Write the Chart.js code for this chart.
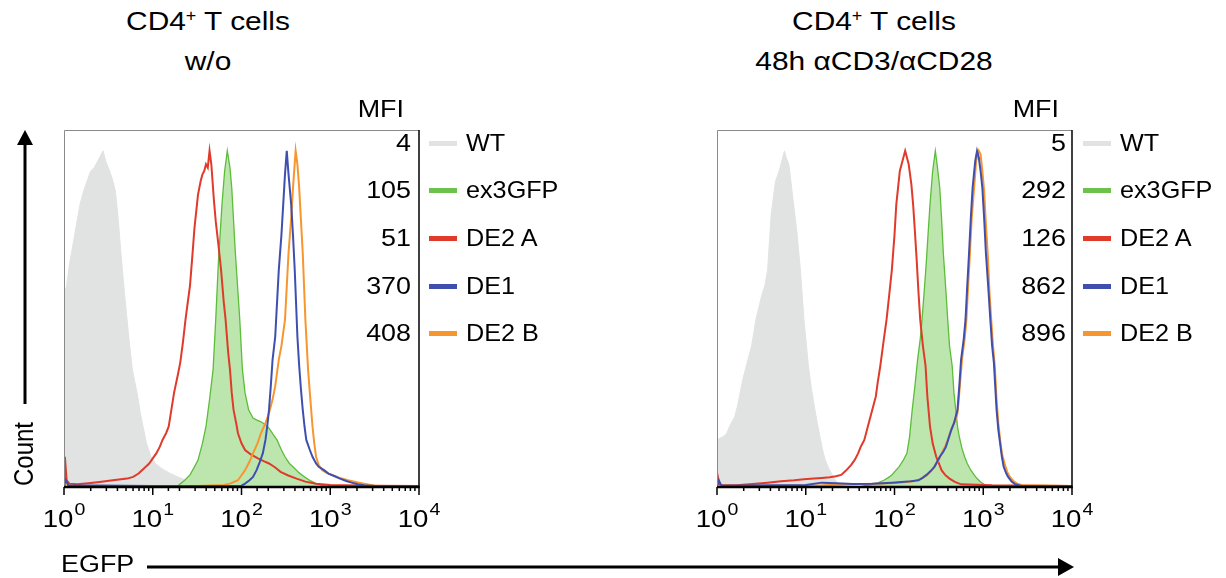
<!DOCTYPE html>
<html lang="en">
<head>
<meta charset="UTF-8" />
<title>EGFP in CD4+ T cells</title>
<script src="https://cdn.jsdelivr.net/npm/chart.js"></script>
<style>
  body { margin: 0; background: #fff; }
  #page { position: relative; width: 1226px; height: 578px; overflow: hidden;
          font-family: "Liberation Sans", Arial, sans-serif; color: #000; }
  .txt { position: absolute; white-space: nowrap; line-height: 1; }
  .title { position: absolute; width: 400px; text-align: center; font-size: 26px;
           line-height: 36px; transform: scaleX(1.15); }
  sup { font-size: 60%; vertical-align: 0; position: relative; top: -0.6em; }
  .num { text-align: right; width: 80px; transform: scaleX(1.12); transform-origin: right center; font-size: 24px; }
  .lab { transform: scaleX(1.05); transform-origin: left center; font-size: 24px; }
  .mark { position: absolute; width: 28px; height: 5px; }
  canvas { position: absolute; }
</style>
</head>
<body>
<div id="page">
  <div class="title" style="left:8px; top:3px;">CD4<sup>+</sup> T cells<br>w/o</div>
  <div class="title" style="left:674px; top:3px;">CD4<sup>+</sup> T cells<br>48h &alpha;CD3/&alpha;CD28</div>

  <canvas id="left" width="420" height="420" style="left:30px; top:120px; width:420px; height:420px;"></canvas>
  <canvas id="right" width="420" height="420" style="left:683px; top:120px; width:420px; height:420px;"></canvas>

  <svg width="1226" height="578" style="position:absolute; left:0; top:0; pointer-events:none;">
    <line x1="25" y1="142" x2="25" y2="404" stroke="#000" stroke-width="3" />
    <polygon points="17,145 33,145 25,130" fill="#000" />
    <line x1="147" y1="567" x2="1060" y2="567" stroke="#000" stroke-width="3" />
    <polygon points="1058,558 1058,576 1074,567" fill="#000" />
  </svg>
  <div class="txt" style="left:61px; top:553px; font-size:23px; transform:scaleX(1.17); transform-origin:left center;">EGFP</div>
  <div class="txt" style="left:-26px; top:442px; width:100px; text-align:center; font-size:24px; transform:rotate(-90deg) scaleY(1.15);">Count</div>
  <div id="legends"></div>
</div>

<script>
  // [log10 fluorescence, % of mode]
  const leftWT = [[0,57],[0.03,60],[0.06,66],[0.1,72],[0.14,78],[0.18,84],[0.22,88],[0.26,91],[0.3,94],[0.34,95],
    [0.38,97],[0.42,99],[0.44,100],[0.47,97],[0.5,95],[0.54,92],[0.58,88],[0.61,80],[0.64,70],[0.68,58],[0.71,50],
    [0.74,42],[0.77,35],[0.8,31],[0.83,27],[0.86,22],[0.89,18],[0.93,13],[0.98,9],[1.03,7],[1.1,5.5],[1.2,4],
    [1.3,2.8],[1.38,2],[1.5,1],[1.6,0.5],[1.7,0.2],[1.8,0]];
  const leftGFP = [[1.2,0],[1.29,0.5],[1.36,2],[1.42,3.6],[1.47,6],[1.51,8],[1.56,13],[1.6,18],[1.64,26],[1.68,35],
    [1.71,50],[1.74,67],[1.78,84],[1.81,94],[1.84,100],[1.87,95],[1.89,89],[1.93,70],[1.98,50],[2.01,35],[2.04,28],
    [2.08,23],[2.13,20.5],[2.18,19.8],[2.22,19.4],[2.27,18.5],[2.31,17.5],[2.36,15.5],[2.4,14],[2.45,11],[2.49,9],
    [2.54,7],[2.58,6],[2.65,4.2],[2.71,3],[2.78,1.8],[2.84,1],[2.92,0.4],[3.0,0]];
  const leftDE2A = [[0,0.5],[0.01,9],[0.03,2],[0.06,1],[0.15,0.8],[0.3,1.2],[0.4,1.5],[0.55,2],[0.71,2.5],[0.78,3],
    [0.84,4],[0.9,5.5],[0.96,7],[1.0,8.5],[1.04,10],[1.08,12],[1.11,14],[1.15,16],[1.18,18],[1.21,23],[1.24,28],
    [1.28,33],[1.31,37],[1.34,43],[1.37,50],[1.4,56],[1.42,60],[1.45,70],[1.47,77],[1.51,87],[1.54,91],[1.56,93],
    [1.58,94],[1.6,96],[1.62,95],[1.64,100],[1.66,96],[1.69,85],[1.71,79],[1.74,72],[1.77,64.5],[1.8,55],[1.82,50],
    [1.85,40],[1.87,35],[1.89,28],[1.91,23],[1.94,19],[1.96,16],[2.0,13],[2.04,11],[2.1,9.8],[2.18,8.6],[2.25,7.7],
    [2.31,7],[2.38,5.8],[2.44,4.5],[2.52,3.5],[2.62,2.5],[2.72,1.6],[2.84,1],[3.0,0.6],[3.5,0.4],[4,0.3]];
  const leftDE1 = [[0,0.5],[0.02,2],[0.05,0.5],[1.0,0.3],[2.0,0.4],[2.04,1],[2.09,2],[2.13,3],[2.17,5],[2.2,7],
    [2.24,10],[2.27,14],[2.29,18],[2.31,23],[2.33,30],[2.35,37.8],[2.38,44.7],[2.42,64.5],[2.45,75],[2.47,84],
    [2.49,93],[2.51,100],[2.53,93],[2.56,84],[2.58,75],[2.6,64.5],[2.63,44.7],[2.65,36],[2.67,29],[2.69,23],
    [2.71,18],[2.73,14],[2.77,11],[2.8,9],[2.84,7],[2.87,6],[2.93,5],[2.98,4],[3.05,3.2],[3.11,2.5],[3.18,1.8],
    [3.24,1.3],[3.31,0.8],[3.38,0.5],[3.5,0.3],[4,0.3]];
  const leftDE2B = [[0,0.3],[0.02,1.5],[0.05,0.3],[1.5,0.3],[1.8,0.6],[1.87,1],[1.96,2],[2.0,3.5],[2.04,5],[2.09,7.5],
    [2.13,10],[2.18,13],[2.22,16],[2.27,19],[2.31,22],[2.35,26],[2.38,30],[2.42,37.8],[2.45,42],[2.49,49.7],
    [2.53,69.6],[2.56,80],[2.58,89],[2.61,100],[2.63,96],[2.65,89],[2.69,69.6],[2.72,49.7],[2.75,35],[2.77,28],
    [2.8,18],[2.82,13],[2.84,9],[2.87,6.5],[2.91,5],[2.96,4.2],[3.02,3.6],[3.1,2.8],[3.2,2],[3.3,1.4],[3.38,1],
    [3.5,0.4],[4,0.3]];

  const rightWT = [[0,14],[0.03,14.5],[0.07,15],[0.11,16],[0.15,18.5],[0.2,21],[0.23,24],[0.26,28],[0.3,33],[0.33,36],
    [0.36,39],[0.39,42],[0.44,50],[0.5,56.6],[0.54,60],[0.57,64.5],[0.61,81],[0.66,91],[0.7,94],[0.73,97],[0.76,100],
    [0.78,98],[0.81,96],[0.85,87],[0.9,76],[0.94,64.5],[0.98,49.7],[1.03,36],[1.06,30],[1.09,25],[1.13,19],[1.16,15],
    [1.19,11],[1.22,8],[1.26,5.5],[1.29,4],[1.33,2.2],[1.36,1.2],[1.4,0.5],[1.45,0]];
  const rightGFP = [[1.6,0],[1.75,0.8],[1.82,1.3],[1.88,2],[1.93,2.8],[1.97,3.6],[2.01,4.8],[2.05,6],[2.1,8],[2.14,10],
    [2.17,15],[2.2,23],[2.23,30],[2.26,37.8],[2.29,44],[2.31,49.7],[2.34,60],[2.36,67.5],[2.38,76],[2.4,84],[2.43,94],
    [2.46,100],[2.48,96],[2.51,89],[2.53,80],[2.55,69.6],[2.58,58],[2.6,49.7],[2.62,42],[2.65,36],[2.67,28],[2.69,23],
    [2.71,18],[2.73,15],[2.76,11.5],[2.79,9],[2.82,7],[2.86,5],[2.9,3.5],[2.93,2.5],[2.97,1.5],[3.01,0.8],[3.06,0.3],
    [3.1,0]];
  const rightDE2A = [[0,0.5],[0.01,3],[0.03,0.5],[0.22,0.5],[0.4,0.9],[0.57,1.3],[0.72,1.7],[0.87,2],[0.98,2.3],
    [1.09,2.5],[1.18,2.7],[1.27,2.9],[1.34,3.2],[1.4,3.6],[1.45,4.8],[1.51,6.5],[1.55,8],[1.59,10],[1.62,12],[1.66,14],
    [1.69,17],[1.72,20],[1.75,23],[1.79,27],[1.81,31],[1.84,36],[1.88,44],[1.91,49.7],[1.94,57],[1.97,64.5],[2.0,75],
    [2.02,84],[2.04,89],[2.06,94],[2.09,97],[2.12,100],[2.14,98],[2.16,96],[2.19,90],[2.21,84],[2.23,76],[2.25,67.5],
    [2.27,58],[2.29,49.7],[2.32,42],[2.35,36],[2.37,27],[2.4,18],[2.43,13],[2.47,9],[2.5,7],[2.53,5],[2.57,3.6],
    [2.62,2.5],[2.68,1.5],[2.75,0.8],[3.1,0.5],[4,0.3]];
  const rightDE1 = [[0,0.5],[0.02,2],[0.05,0.4],[0.6,0.5],[1.0,0.6],[1.18,1.3],[1.35,1.1],[1.53,0.9],[1.75,1],[1.97,1.3],
    [2.15,1.6],[2.27,2],[2.32,2.8],[2.36,3.6],[2.41,4.8],[2.45,6],[2.48,7.5],[2.51,9],[2.55,10.5],[2.58,12],[2.61,14.5],
    [2.64,17],[2.67,19],[2.69,21],[2.71,23],[2.73,30],[2.75,37.8],[2.78,44],[2.8,49.7],[2.82,60],[2.84,69.6],[2.86,80],
    [2.88,89],[2.91,97],[2.93,100],[2.95,98],[2.97,94],[2.99,89],[3.01,80],[3.03,69.6],[3.06,58],[3.08,49.7],[3.1,42],
    [3.12,37],[3.15,23],[3.17,17],[3.19,13],[3.21,9],[3.23,6],[3.26,4],[3.28,3],[3.32,1.6],[3.36,0.8],[3.42,0.4],[4,0.3]];
  const rightDE2B = [[0,0.3],[0.5,0.3],[1.2,0.5],[1.5,0.8],[1.8,1],[2.0,1.2],[2.2,1.6],[2.3,2.4],[2.37,3.6],[2.42,5],
    [2.46,6.5],[2.5,8],[2.53,10],[2.57,12],[2.6,14],[2.63,16.5],[2.66,18.5],[2.69,20],[2.71,22],[2.73,28],[2.76,37.8],
    [2.79,44],[2.81,49.7],[2.83,60],[2.85,69.6],[2.87,80],[2.9,90],[2.92,97],[2.95,100],[2.97,99],[2.99,94],[3.01,88],
    [3.03,78],[3.05,69.6],[3.07,58],[3.09,49.7],[3.11,42],[3.13,36],[3.15,26],[3.17,19],[3.19,14],[3.21,10],[3.24,7],
    [3.27,4.5],[3.3,3],[3.34,1.8],[3.38,1],[3.44,0.5],[4,0.3]];

  const seriesNames = ['WT', 'ex3GFP', 'DE2 A', 'DE1', 'DE2 B'];
  const seriesColors = ['#e1e2e2', '#6cc24a', '#e03a2a', '#3f4fb0', '#f7962e'];
  const mfiLeft = [4, 105, 51, 370, 408];
  const mfiRight = [5, 292, 126, 862, 896];
  const tickBase = '10';
  const tickExponents = ['0', '1', '2', '3', '4'];

  const FONT = '"Liberation Sans", Arial, sans-serif';
  const SX = 1.15;

  function drawPow(ctx, px, baseY, exp) {
    ctx.font = '24px ' + FONT;
    const w1 = ctx.measureText(tickBase).width;
    ctx.font = '17px ' + FONT;
    const w2 = ctx.measureText(exp).width;
    const total = (w1 + w2 + 1) * SX;
    ctx.save();
    ctx.translate(px - total / 2, baseY);
    ctx.scale(SX, 1);
    ctx.fillStyle = '#000';
    ctx.textBaseline = 'alphabetic';
    ctx.font = '24px ' + FONT;
    ctx.fillText(tickBase, 0, 0);
    ctx.font = '17px ' + FONT;
    ctx.fillText(exp, w1 + 1, -12);
    ctx.restore();
  }

  const framePlugin = {
    id: 'frame',
    afterDatasetsDraw(chart) {
      const { ctx, chartArea: a, scales: { x } } = chart;
      ctx.save();
      ctx.strokeStyle = '#8a8a8a';
      ctx.lineWidth = 1;
      ctx.beginPath();
      ctx.moveTo(a.left + 0.5, a.bottom);
      ctx.lineTo(a.left + 0.5, a.top + 0.5);
      ctx.lineTo(a.right, a.top + 0.5);
      ctx.stroke();
      ctx.strokeStyle = '#000';
      ctx.lineWidth = 1.5;
      ctx.beginPath();
      ctx.moveTo(a.right, a.top);
      ctx.lineTo(a.right, a.bottom);
      ctx.stroke();
      ctx.lineWidth = 2.5;
      ctx.beginPath();
      ctx.moveTo(a.left, a.bottom);
      ctx.lineTo(a.right + 0.75, a.bottom);
      ctx.stroke();
      ctx.lineWidth = 1.5;
      let k = 0;
      x.ticks.forEach(t => {
        const px = x.getPixelForValue(t.value);
        const e = Math.log10(t.value);
        const major = Math.abs(e - Math.round(e)) < 1e-6;
        ctx.beginPath();
        ctx.moveTo(px, a.bottom);
        ctx.lineTo(px, a.bottom + (major ? 8 : 4));
        ctx.stroke();
        if (major && k < tickExponents.length) {
          drawPow(ctx, px, a.bottom + 40, tickExponents[k]);
          k++;
        }
      });
      ctx.restore();
    }
  };

  function toPoints(arr) {
    return arr.map(([e, v]) => ({ x: Math.pow(10, e), y: v }));
  }

  function makeChart(id, wt, gfp, de2a, de1, de2b) {
    const line = (i, pts, ord) => ({
      label: seriesNames[i], data: toPoints(pts), borderColor: seriesColors[i],
      borderWidth: 2, pointRadius: 0, tension: 0, fill: false, order: ord
    });
    return new Chart(document.getElementById(id), {
      type: 'line',
      data: {
        datasets: [
          { label: seriesNames[0], data: toPoints(wt), borderColor: '#e1e2e2', backgroundColor: '#e1e2e2',
            borderWidth: 1, pointRadius: 0, tension: 0, fill: 'origin', order: 4 },
          { label: seriesNames[1], data: toPoints(gfp), borderColor: '#5cbd3a', backgroundColor: '#bde6ae',
            borderWidth: 1.3, pointRadius: 0, tension: 0, fill: 'origin', order: 3 },
          line(2, de2a, 2),
          line(3, de1, 0),
          line(4, de2b, 1)
        ]
      },
      options: {
        responsive: false,
        animation: false,
        layout: { padding: { left: 34, right: 31, top: 10, bottom: 53 } },
        plugins: { legend: { display: false }, tooltip: { enabled: false } },
        scales: {
          x: { type: 'logarithmic', min: 1, max: 10000, display: false, ticks: { autoSkip: false } },
          y: { type: 'linear', min: 0, max: 106.2, display: false }
        }
      },
      plugins: [framePlugin]
    });
  }

  makeChart('left', leftWT, leftGFP, leftDE2A, leftDE1, leftDE2B);
  makeChart('right', rightWT, rightGFP, rightDE2A, rightDE1, rightDE2B);

  // MFI header + legend rows
  const legends = document.getElementById('legends');
  const rowCenters = [143, 190, 238, 286, 333];
  function addLegend(numRight, markLeft, mfi) {
    let html = `<div class="txt num" style="left:${numRight - 7 - 80}px; top:${117 - 20}px;">MFI</div>`;
    seriesNames.forEach((name, i) => {
      const c = rowCenters[i];
      html += `<div class="txt num" style="left:${numRight - 80}px; top:${c + 8.6 - 20.3}px;">${mfi[i]}</div>`;
      html += `<div class="mark" style="left:${markLeft}px; top:${c - 2.5}px; background:${seriesColors[i]};"></div>`;
      html += `<div class="txt lab" style="left:${markLeft + 37}px; top:${c + 8.6 - 20.3}px;">${name}</div>`;
    });
    legends.innerHTML += html;
  }
  addLegend(411, 429, mfiLeft);
  addLegend(1066, 1083, mfiRight);
</script>
</body>
</html>
